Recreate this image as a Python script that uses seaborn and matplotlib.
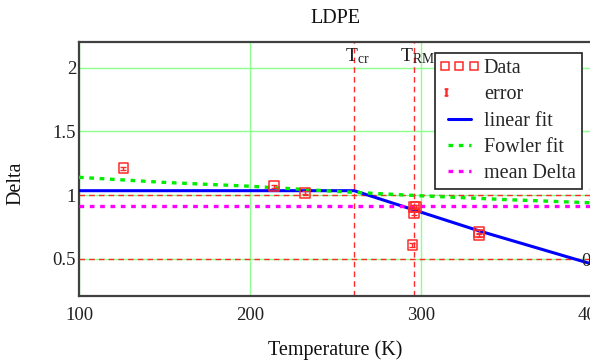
import matplotlib
matplotlib.use('Agg')
import matplotlib.pyplot as plt
import numpy as np
import pandas as pd
import seaborn as sns
from matplotlib.lines import Line2D
from matplotlib.legend_handler import HandlerLine2D

# measured data (LDPE)
temp_data = [126, 214, 232, 295, 296, 296, 297, 334, 334]
delta_data = [1.21, 1.07, 1.02, 0.61, 0.91, 0.86, 0.91, 0.71, 0.69]
delta_err = [0.012, 0.012, 0.012, 0.015, 0.015, 0.015, 0.015, 0.015, 0.015]

# fits
temp_lin = [100, 261, 334, 400]
delta_lin = [1.035, 1.035, 0.72, 0.46]
temp_fowler = [100, 150, 200, 250, 300, 350, 400]
delta_fowler = [1.14, 1.10, 1.07, 1.03, 0.995, 0.965, 0.94]
mean_delta = 0.915

# markers
t_cr = 261
t_rm = 296
marker_levels = [1.0, 0.5]

x_ticks = [100, 200, 300, 400]
y_ticks = [0.5, 1, 1.5, 2]


class LeftMarkerHandler(HandlerLine2D):
    # one marker only, at the left end of the handle
    def get_xdata(self, legend, xdescent, ydescent, width, height, fontsize):
        x = np.array([-xdescent + 0.2 * fontsize])
        return x, x


sns.set_theme(style='white')
plt.rcParams['font.family'] = ['Liberation Serif', 'DejaVu Serif']
plt.rcParams['mathtext.fontset'] = 'custom'
plt.rcParams['mathtext.rm'] = 'Liberation Serif'

fig = plt.figure(figsize=(5.9, 3.64), dpi=100)
ax = fig.add_axes([79 / 590, 1 - 296 / 364, 513 / 590, 254 / 364])

fs = 14.5
red = '#ff2a2a'

# grid + marker lines
ax.set_xticks(x_ticks)
ax.set_yticks(y_ticks)
ax.grid(True, color='#8cff8c', lw=1, zorder=0)
for lv in marker_levels:
    ax.axhline(lv, color=red, lw=1, ls=(0, (4, 3)), zorder=1)
ax.axvline(t_cr, color=red, lw=1, ls=(0, (4, 3)), zorder=1)
ax.axvline(t_rm, color=red, lw=1, ls=(0, (4, 3)), zorder=1)

# fits
sns.lineplot(x=temp_lin, y=delta_lin, color='#0000ff', lw=2.2, ax=ax, zorder=3)
sns.lineplot(x=temp_fowler, y=delta_fowler, color='#00ee00', lw=2.4,
             linestyle=(0, (1.4, 1.7)), ax=ax, zorder=3)
sns.lineplot(x=[x_ticks[0], x_ticks[-1]], y=[mean_delta, mean_delta],
             color='#ff00ff', lw=2.4, linestyle=(0, (1.4, 1.7)), ax=ax, zorder=3)

# data
ax.errorbar(temp_data, delta_data, yerr=delta_err, fmt='none', ecolor=red,
            elinewidth=1, capsize=2, zorder=4)
sns.scatterplot(x=temp_data, y=delta_data, marker='s', s=50, facecolor='none',
                edgecolor=red, linewidth=1.1, ax=ax, zorder=5)

ax.set_xlim(100, 400)
ax.set_ylim(0.21, 2.2)

# marker labels
ax.text(t_cr - 5.5, 2.165, r'$\mathrm{T_{cr}}$', fontsize=fs - 0.5, va='top', ha='left', color='#202020')
ax.text(t_rm - 8.5, 2.165, r'$\mathrm{T_{RM}}$', fontsize=fs - 0.5, va='top', ha='left', color='#202020')
ax.text(397.5, 1.0, '1', fontsize=fs - 1, va='center', ha='left', color='#202020')
ax.text(394, 0.48, '0.5', fontsize=fs - 1, va='center', ha='left', color='#202020')

ax.set_title('LDPE', fontsize=fs, pad=14, color='#101010')
ax.set_xlabel('Temperature (K)', fontsize=fs, color='#101010')
ax.set_ylabel('Delta', fontsize=fs, color='#101010')
ax.xaxis.set_label_coords(0.5, -0.175)
ax.yaxis.set_label_coords(-0.104, 0.445)
ax.set_yticklabels(['0.5', '1', '1.5', '2'])
ax.tick_params(axis='both', length=0, labelsize=fs - 1, colors='#202020')
ax.tick_params(axis='x', pad=8)
ax.tick_params(axis='y', pad=2)

for side in ['left', 'bottom', 'top']:
    ax.spines[side].set_color('#404040')
    ax.spines[side].set_linewidth(1.6)
ax.spines['right'].set_visible(False)

# legend
h_data = Line2D([], [], ls='none', marker='s', ms=5.5, mfc='none', mec=red, mew=1.1)
h_err = Line2D([], [], ls='none', marker='$\\mathrm{I}$', ms=5, color=red)
h_lin = Line2D([], [], color='#0000ff', lw=2.2)
h_fow = Line2D([], [], color='#00ee00', lw=2.4, ls=(0, (1.4, 1.7)))
h_mean = Line2D([], [], color='#ff00ff', lw=2.4, ls=(0, (1.4, 1.7)))
leg = ax.legend([h_data, h_err, h_lin, h_fow, h_mean],
                ['Data', 'error', 'linear fit', 'Fowler fit', 'mean Delta'],
                loc='upper right', bbox_to_anchor=(0.98, 0.957), borderaxespad=0,
                fontsize=fs, numpoints=3, handlelength=1.75, handletextpad=0.35,
                labelspacing=0.36, borderpad=0.3, fancybox=False, framealpha=1,
                edgecolor='#202020',
                handler_map={h_err: LeftMarkerHandler(),
                             h_data: HandlerLine2D(numpoints=3, marker_pad=0.15)})
leg.get_frame().set_linewidth(1.2)
leg.set_zorder(10)

fig.savefig('out.png', dpi=100)
